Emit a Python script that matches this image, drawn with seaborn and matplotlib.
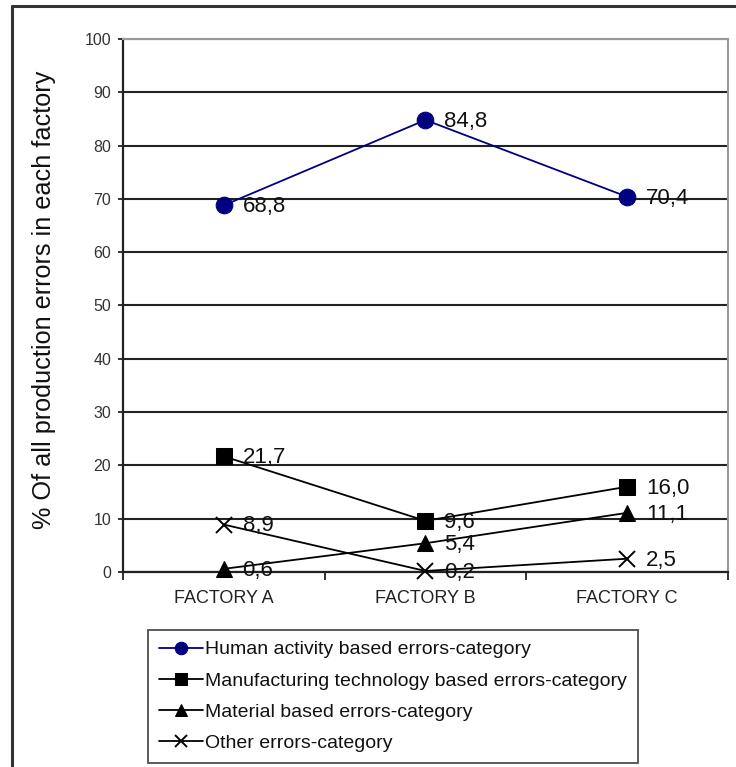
import matplotlib
matplotlib.use("Agg")
import matplotlib.pyplot as plt
from matplotlib.lines import Line2D
from matplotlib.ticker import FixedLocator, NullFormatter
import seaborn as sns
import pandas as pd

factories = ["FACTORY A", "FACTORY B", "FACTORY C"]
series_names = [
    "Human activity based errors-category",
    "Manufacturing technology based errors-category",
    "Material based errors-category",
    "Other errors-category",
]
human = [68.8, 84.8, 70.4]
manufacturing = [21.7, 9.6, 16.0]
material = [0.6, 5.4, 11.1]
other = [8.9, 0.2, 2.5]
y_ticks = list(range(0, 101, 10))

sns.set_theme(style="white")
plt.rcParams["font.family"] = ["Liberation Sans", "DejaVu Sans"]

fig = plt.figure(figsize=(7.36, 7.67), dpi=100)
ax = fig.add_axes([0.1671, 0.2542, 0.8219, 0.6950])

styles = [
    dict(color="#000080", marker="o", markersize=12, mfc="#000080", mec="#000080"),
    dict(color="black", marker="s", markersize=12, mfc="black", mec="black"),
    dict(color="black", marker="^", markersize=12, mfc="black", mec="black"),
    dict(color="black", marker="x", markersize=11, mec="black", mew=1.4),
]
values = [human, manufacturing, material, other]

for name, vals, st in zip(series_names, values, styles):
    df = pd.DataFrame({"factory": factories, "value": vals})
    sns.lineplot(data=df, x="factory", y="value", ax=ax, label=name,
                 linewidth=1.3, legend=False, clip_on=False, zorder=3, **st)

# value labels to the right of each marker, decimal comma
for vals in values:
    for fi, v in enumerate(vals):
        ax.annotate(f"{v:.1f}".replace(".", ","), (fi, v),
                    xytext=(13.5, -1), textcoords="offset points",
                    ha="left", va="center", fontsize=16, color="#111111",
                    zorder=4, annotation_clip=False)

ax.set_xlim(-0.5, 2.5)
ax.set_ylim(0, 100)
ax.set_yticks(y_ticks)
ax.set_yticklabels([str(t) for t in y_ticks], fontsize=11.5, color="#333333")
ax.set_xticks(range(len(factories)))
ax.set_xticklabels(factories, fontsize=13, color="#222222")
ax.xaxis.set_minor_locator(FixedLocator([-0.5, 0.5, 1.5, 2.5]))
ax.xaxis.set_minor_formatter(NullFormatter())
ax.tick_params(axis="x", which="major", length=0, pad=13)
ax.tick_params(axis="x", which="minor", length=6, width=1.3, direction="out",
               color="#222222", bottom=True)
ax.tick_params(axis="y", length=7, width=1.3, direction="inout", color="#222222",
               left=True, pad=5)
ax.grid(axis="y", color="#222222", linewidth=1.5)
ax.grid(axis="x", visible=False)
ax.set_axisbelow(True)

ax.set_xlabel("")
ax.set_ylabel("% Of all production errors in each factory", fontsize=18.2,
              color="#111111")
ax.yaxis.set_label_coords(-0.11, 0.51)

for side in ["top", "right"]:
    ax.spines[side].set_color("#999999")
    ax.spines[side].set_linewidth(1.5)
for side in ["left", "bottom"]:
    ax.spines[side].set_color("#222222")
    ax.spines[side].set_linewidth(1.6)

# outer frame of the figure
fig.add_artist(Line2D([12 / 736, 12 / 736], [0, 1 - 6 / 767], transform=fig.transFigure,
                      color="#333333", linewidth=2.2))
fig.add_artist(Line2D([12 / 736, 1], [1 - 6 / 767, 1 - 6 / 767], transform=fig.transFigure,
                      color="#333333", linewidth=2.2))

handles, labels = ax.get_legend_handles_labels()
leg = fig.legend(handles, labels, loc="upper left",
                 bbox_to_anchor=(148 / 736, 1 - 630 / 767),
                 fontsize=14.0, frameon=True, fancybox=False, edgecolor="#222222",
                 borderpad=0.55, labelspacing=0.7, handlelength=2.3,
                 handletextpad=0.1, borderaxespad=0, markerscale=0.75)
leg.get_frame().set_linewidth(1.3)
for t in leg.get_texts():
    t.set_color("#111111")

fig.savefig("out.png", dpi=100, facecolor="white")
